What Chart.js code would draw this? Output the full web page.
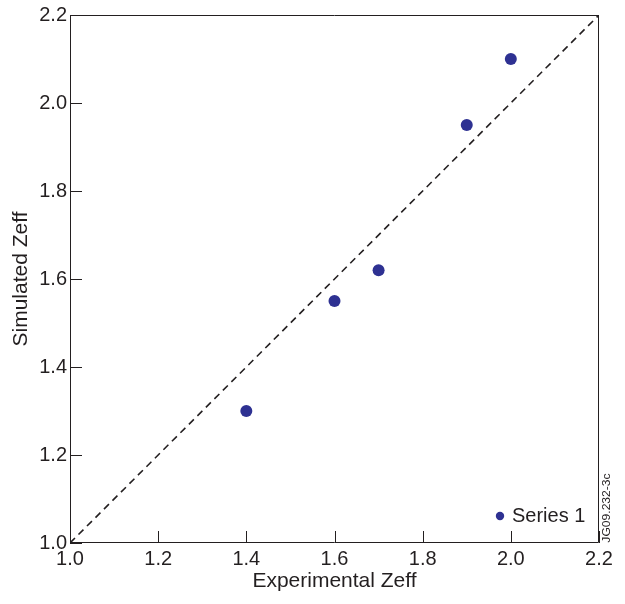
<!DOCTYPE html>
<html>
<head>
<meta charset="utf-8">
<script src="https://cdn.jsdelivr.net/npm/chart.js@4/dist/chart.umd.min.js"></script>
<style>
html,body{margin:0;padding:0;background:#fff;}
#wrap{width:625px;height:604px;position:relative;}
</style>
</head>
<body>
<div id="wrap"><canvas id="c" width="625" height="604"></canvas></div>
<script>
// Data
const experimentalZeff = [1.4, 1.6, 1.7, 1.9, 2.0];
const simulatedZeff = [1.30, 1.55, 1.62, 1.95, 2.10];
const diagonalX = [1.0, 2.2];
const diagonalY = [1.0, 2.2];
const seriesLabel = 'Series 1';
const xTitle = 'Experimental Zeff';
const yTitle = 'Simulated Zeff';
const stampText = 'JG09.232-3c';

const ink = '#231f20';
const dotColor = '#2e3192';
const FONT = "'Liberation Sans', Arial, Helvetica, sans-serif";

const boxAndTicks = {
  id: 'boxAndTicks',
  afterDatasetsDraw(chart) {
    const {ctx, chartArea: a, scales} = chart;
    ctx.save();
    ctx.strokeStyle = ink;
    ctx.lineWidth = 1;
    ctx.beginPath();
    ctx.rect(a.left + 0.5, a.top + 0.5, a.right - a.left - 1, a.bottom - a.top - 1);
    ctx.stroke();
    // inward ticks
    ctx.beginPath();
    scales.x.ticks.forEach((t, i) => {
      const px = Math.round(scales.x.getPixelForTick(i)) + 0.5;
      ctx.moveTo(px, a.bottom);
      ctx.lineTo(px, a.bottom - 12);
    });
    scales.y.ticks.forEach((t, i) => {
      const py = Math.round(scales.y.getPixelForTick(i)) + 0.5;
      ctx.moveTo(a.left, py);
      ctx.lineTo(a.left + 12, py);
    });
    ctx.stroke();
    // legend inside plot
    const ds = chart.data.datasets[0];
    ctx.fillStyle = dotColor;
    ctx.beginPath();
    ctx.arc(500, 516, 4.2, 0, Math.PI * 2);
    ctx.fill();
    ctx.fillStyle = ink;
    ctx.font = '20px ' + FONT;
    ctx.textBaseline = 'middle';
    ctx.textAlign = 'left';
    ctx.fillText(ds.label, 512, 516);
    // vertical stamp
    ctx.save();
    ctx.translate(607, 508);
    ctx.rotate(-Math.PI / 2);
    ctx.font = '11px ' + FONT;
    ctx.textAlign = 'center';
    ctx.textBaseline = 'middle';
    ctx.scale(1.1, 1);
    ctx.fillText(stampText, 0, 0);
    ctx.restore();
    ctx.restore();
  }
};

new Chart(document.getElementById('c'), {
  type: 'scatter',
  data: {
    datasets: [
      {
        label: seriesLabel,
        data: experimentalZeff.map((x, i) => ({x, y: simulatedZeff[i]})),
        backgroundColor: dotColor,
        borderColor: dotColor,
        pointRadius: 6,
        pointHoverRadius: 6,
        borderWidth: 0
      },
      {
        label: 'y = x',
        data: diagonalX.map((x, i) => ({x, y: diagonalY[i]})),
        showLine: true,
        pointRadius: 0,
        borderColor: ink,
        borderWidth: 1.6,
        borderDash: [7, 5],
        fill: false
      }
    ]
  },
  options: {
    responsive: false,
    animation: false,
    devicePixelRatio: 1,
    layout: {padding: {top: 14, right: 26, left: 0, bottom: 0}},
    plugins: {legend: {display: false}, tooltip: {enabled: false}},
    scales: {
      x: {
        type: 'linear', min: 1.0, max: 2.2,
        afterFit(s) { s.height = 61; },
        grid: {display: false, drawTicks: false},
        border: {display: false},
        ticks: {stepSize: 0.2, padding: 4, color: ink, font: {size: 20, family: FONT},
          callback: v => Number(v).toFixed(1), maxRotation: 0, autoSkip: false},
        title: {display: true, text: xTitle, color: ink, font: {size: 21, family: FONT},
          padding: {top: 0, bottom: 10}}
      },
      y: {
        type: 'linear', min: 1.0, max: 2.2,
        afterFit(s) { s.width = 70; },
        grid: {display: false, drawTicks: false},
        border: {display: false},
        ticks: {stepSize: 0.2, padding: 3, color: ink, font: {size: 20, family: FONT},
          callback: v => Number(v).toFixed(1), autoSkip: false},
        title: {display: true, text: yTitle, color: ink, font: {size: 21, family: FONT},
          padding: {top: 9, bottom: 0}}
      }
    }
  },
  plugins: [boxAndTicks]
});
</script>
</body>
</html>
